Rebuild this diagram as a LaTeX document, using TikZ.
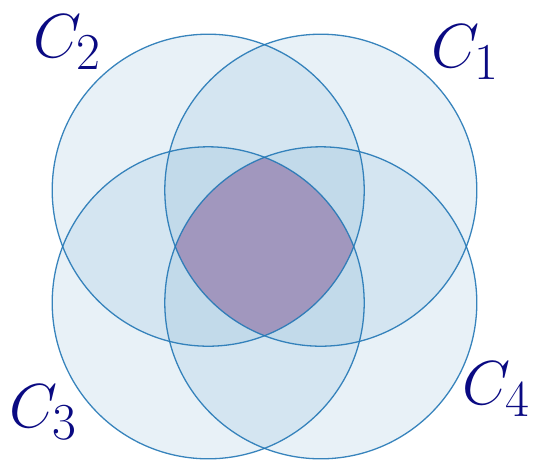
\documentclass[tikz,border=0pt]{standalone}
\definecolor{circblue}{RGB}{31,119,180}
\definecolor{edgeblue}{RGB}{36,120,182}
\definecolor{labnavy}{RGB}{10,10,130}
\definecolor{purp}{RGB}{144,96,151}
\newcommand{\biglab}[1]{\scalebox{2.5}{\fontsize{24.88}{26}\selectfont$#1$}}
\begin{document}
\begin{tikzpicture}[x=1pt,y=-1pt,
  circline/.style={draw=edgeblue,line width=1.3pt,draw opacity=0.9},
  lab/.style={anchor=base west,inner sep=0pt,text=labnavy}]
\useasboundingbox (0,0) rectangle (534,459);
\def\R{156}
\coordinate (o2) at (208.2,190.2);
\coordinate (o1) at (320.8,190.2);
\coordinate (o3) at (208.2,302.8);
\coordinate (o4) at (320.8,302.8);
\fill[circblue,fill opacity=0.1] (o1) circle[radius=\R];
\fill[circblue,fill opacity=0.1] (o2) circle[radius=\R];
\fill[circblue,fill opacity=0.1] (o3) circle[radius=\R];
\fill[circblue,fill opacity=0.1] (o4) circle[radius=\R];
\begin{scope}
  \clip (o1) circle[radius=\R];
  \clip (o2) circle[radius=\R];
  \clip (o3) circle[radius=\R];
  \fill[purp,fill opacity=0.5] (o4) circle[radius=\R];
\end{scope}
\draw[circline] (o1) circle[radius=\R];
\draw[circline] (o2) circle[radius=\R];
\draw[circline] (o3) circle[radius=\R];
\draw[circline] (o4) circle[radius=\R];
\node[lab] (l2) at (33,57) {\biglab{C_2}};
\node[lab] (l1) at (431,67) {\biglab{C_1}};
\node[lab] (l3) at (9,427) {\biglab{C_3}};
\node[lab] (l4) at (462,404) {\biglab{C_4}};
\end{tikzpicture}
\end{document}
